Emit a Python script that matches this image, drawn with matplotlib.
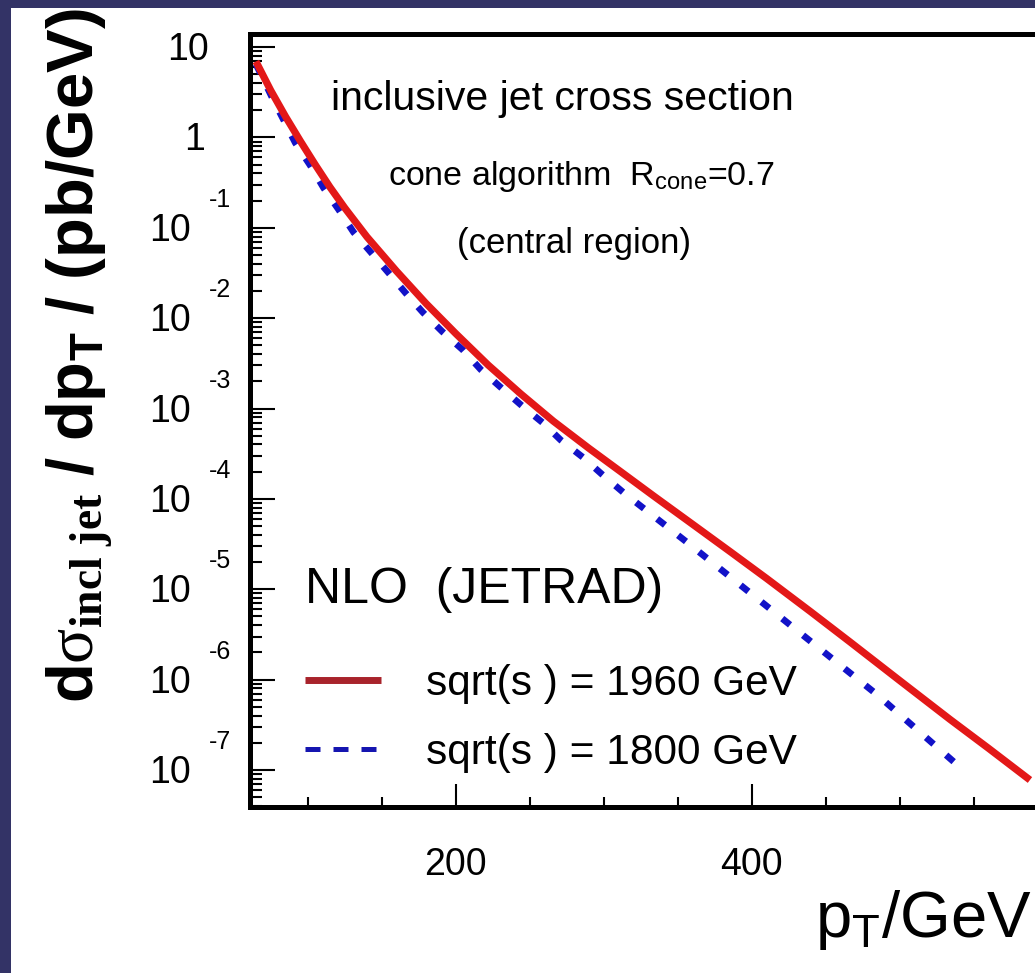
import numpy as np
import matplotlib
matplotlib.use("Agg")
import matplotlib.pyplot as plt
from matplotlib.lines import Line2D
from matplotlib.patches import Rectangle
from matplotlib.ticker import MultipleLocator, LogLocator, NullFormatter

# ---------------- data ----------------
pt_1960 = [65, 75, 85, 95, 105, 115, 125, 140, 160, 180, 200, 222, 244, 266, 290,
           311.5, 334, 360, 386, 410, 440, 467, 500, 534, 560, 588]
xs_1960 = [6.92, 3.31, 1.70, 0.912, 0.501, 0.282, 0.166, 0.0794, 0.0331, 0.0145,
           6.76e-3, 3.02e-3, 1.45e-3, 7.24e-4, 3.63e-4, 2.00e-4, 1.07e-4, 5.25e-5,
           2.57e-5, 1.32e-5, 5.62e-6, 2.57e-6, 9.77e-7, 3.63e-7, 1.74e-7, 7.76e-8]

pt_1800 = [65, 68, 76, 83.8, 91.6, 101.7, 110.8, 121, 131, 142.6, 154.7, 166, 178,
           191, 204.7, 217, 230, 244, 259, 271, 286, 299, 313.5, 343, 357, 415, 485, 540]
xs_1800 = [6.46, 5.13, 2.75, 1.55, 0.871, 0.490, 0.275, 0.158, 0.0891, 0.0537,
           0.0316, 0.0191, 0.0115, 7.08e-3, 4.47e-3, 2.69e-3, 1.74e-3, 1.10e-3,
           6.92e-4, 4.47e-4, 2.88e-4, 1.86e-4, 1.17e-4, 4.90e-5, 3.24e-5, 5.62e-6,
           6.76e-7, 1.10e-7]

labels = ["sqrt(s ) = 1960 GeV", "sqrt(s ) = 1800 GeV"]
decades = [1, 0, -1, -2, -3, -4, -5, -6, -7]
xticks_major = [200, 400]

# ---------------- style ----------------
plt.rcParams["font.family"] = ["Liberation Sans", "DejaVu Sans"]
plt.rcParams["mathtext.fontset"] = "custom"
plt.rcParams["mathtext.rm"] = "Liberation Sans"
plt.rcParams["mathtext.bf"] = "Liberation Sans:bold"
plt.rcParams["mathtext.sf"] = "Liberation Serif:bold"
plt.rcParams["mathtext.it"] = "Liberation Serif"

W, H = 1035, 973
DPI = 100
fig = plt.figure(figsize=(W / DPI, H / DPI), dpi=DPI)
fig.patch.set_facecolor("#333366")
fig.patches.append(Rectangle((11 / W, 0), 1, 1 - 8 / H, transform=fig.transFigure,
                             facecolor="white", edgecolor="none", zorder=-10))

def fx(px):
    return px / W

def fy(py):
    return 1 - py / H

# axes: left spine at x=250px, bottom at y=807, top at y=34; extends past right edge
x0, x1 = 61.0, 620.0
pxpergev = 1.48
left, right = 250, 250 + (x1 - x0) * pxpergev
top, bottom = 34, 807
ax = fig.add_axes([fx(left), fy(bottom), fx(right) - fx(left), (bottom - top) / H])
ax.set_zorder(1)
ax.patch.set_alpha(0)
ax.set_xlim(x0, x1)
ax.set_yscale("log")
ax.set_ylim(10 ** -7.409, 10 ** 1.144)

ax.plot(pt_1960, xs_1960, color="#e31818", lw=5.2, solid_capstyle="butt",
        solid_joinstyle="round", zorder=3)
ax.plot(pt_1800, xs_1800, color="#1212c8", lw=4.8, linestyle=(0, (1.5, 2.5)),
        dash_capstyle="butt", zorder=2)

for s in ["left", "bottom", "top"]:
    ax.spines[s].set_linewidth(3.6)
ax.spines["right"].set_visible(False)

ax.xaxis.set_major_locator(plt.FixedLocator(xticks_major))
ax.xaxis.set_minor_locator(MultipleLocator(50))
ax.yaxis.set_major_locator(LogLocator(base=10, numticks=20))
ax.yaxis.set_minor_locator(LogLocator(base=10, subs=np.arange(2, 10), numticks=20))
ax.yaxis.set_major_formatter(NullFormatter())
ax.yaxis.set_minor_formatter(NullFormatter())
ax.tick_params(axis="y", which="major", direction="in", length=18, width=1.5,
               left=True, right=False)
ax.tick_params(axis="y", which="minor", direction="in", length=8.6, width=1.5,
               left=True, right=False)
ax.tick_params(axis="x", which="major", direction="in", length=16.5, width=1.5,
               top=False, labelsize=27, pad=29)
ax.tick_params(axis="x", which="minor", direction="in", length=7, width=1.5, top=False)

# y tick labels drawn in the reference's style (10 with exponent above-right)
for e in decades:
    if e == 1:
        ax.annotate("10", xy=(0, 10.0 ** e), xycoords=("axes fraction", "data"),
                    xytext=(-41, -13), textcoords="offset pixels", ha="right",
                    va="baseline", fontsize=27)
    elif e == 0:
        ax.annotate("1", xy=(0, 10.0 ** e), xycoords=("axes fraction", "data"),
                    xytext=(-45, -13), textcoords="offset pixels", ha="right",
                    va="baseline", fontsize=27)
    else:
        ax.annotate("10", xy=(0, 10.0 ** e), xycoords=("axes fraction", "data"),
                    xytext=(-59, -13), textcoords="offset pixels", ha="right",
                    va="baseline", fontsize=27)
        ax.annotate(str(e), xy=(0, 10.0 ** e), xycoords=("axes fraction", "data"),
                    xytext=(-41, 21), textcoords="offset pixels", ha="left",
                    va="baseline", fontsize=18)

# annotation texts
fig.text(fx(562), fy(110), "inclusive jet cross section", ha="center", va="baseline",
         fontsize=29.5)
fig.text(fx(581), fy(185), r"cone algorithm  R$_{\mathrm{cone}}$=0.7", ha="center",
         va="baseline", fontsize=24.5)
fig.text(fx(574), fy(253), "(central region)", ha="center", va="baseline", fontsize=25)
fig.text(fx(305), fy(603), "NLO  (JETRAD)", ha="left", va="baseline", fontsize=36)

# legend
handles = [Line2D([], [], color="#a8232b", lw=5.0, solid_capstyle="butt"),
           Line2D([], [], color="#1515b0", lw=3.6, linestyle=(0, (3.0, 2.6)),
                  dash_capstyle="butt")]
leg = ax.legend(handles, labels, loc="upper left",
                bbox_to_anchor=(fx(305), fy(664)), bbox_transform=fig.transFigure,
                frameon=False, fontsize=30.5, handlelength=1.8, handletextpad=1.06,
                labelspacing=0.68, borderpad=0, borderaxespad=0)

# axis labels
fig.text(fx(815), fy(937), r"$\mathrm{p_T/GeV}$", ha="left", va="baseline", fontsize=47)
fig.text(fx(80), fy(356),
         r"$\mathbf{d}\sigma_{\mathsf{incl\ jet}}\mathbf{\ /\ dp_T\ /\ (pb/GeV)}$",
         rotation=90, ha="center", va="center", fontsize=47)

fig.savefig("out.png", dpi=DPI)
